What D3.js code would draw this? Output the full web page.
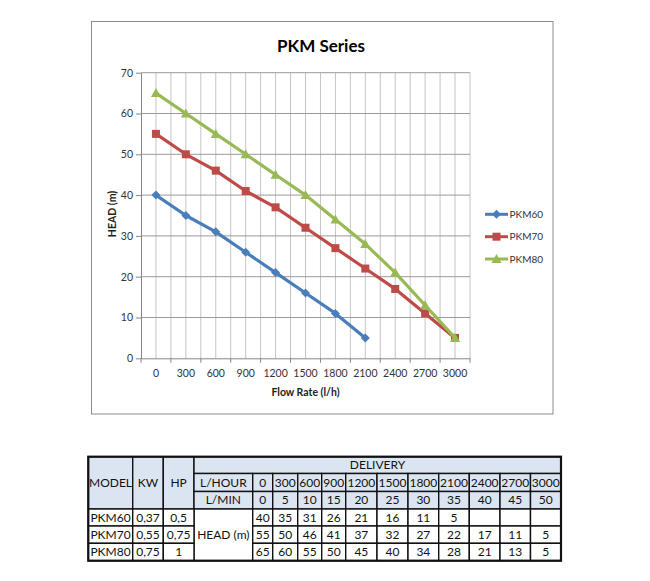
<!DOCTYPE html>
<html>
<head>
<meta charset="utf-8">
<script src="https://cdn.jsdelivr.net/npm/d3@7/dist/d3.min.js"></script>
<style>
  html, body { margin: 0; padding: 0; background: #fff; }
  svg { display: block; }
</style>
</head>
<body>
<svg id="c" width="650" height="581"></svg>
<script>
// ---------- DATA ----------
const flowLabels = ["0","300","600","900","1200","1500","1800","2100","2400","2700","3000"];
const lminValues = ["0","5","10","15","20","25","30","35","40","45","50"];
const yTickValues = [0,10,20,30,40,50,60,70];
const seriesNames = ["PKM60","PKM70","PKM80"];
const pkm60 = [40,35,31,26,21,16,11,5];
const pkm70 = [55,50,46,41,37,32,27,22,17,11,5];
const pkm80 = [65,60,55,50,45,40,34,28,21,13,5];
const kwValues = ["0,37","0,55","0,75"];
const hpValues = ["0,5","0,75","1"];
const chartTitle = "PKM Series";
const xTitle = "Flow Rate (l/h)";
const yTitle = "HEAD (m)";

// ---------- LAYOUT / STYLE ----------
const FONT = "Lato, 'Open Sans', sans-serif";
const colors = ["#4A7EBB", "#BE4B48", "#98B954"];
const markers = ["diamond", "square", "triangle"];
const plot = { left: 141, right: 470, top: 72.7, bottom: 358.3 };

const svg = d3.select("#c");

// chart frame
svg.append("rect").attr("x", 91.5).attr("y", 21.5).attr("width", 461.5).attr("height", 392.5)
  .attr("fill", "#fff").attr("stroke", "#8c8c8c").attr("stroke-width", 1);

const x = d3.scaleBand().domain(flowLabels).range([plot.left, plot.right]).paddingInner(0).paddingOuter(0);
const y = d3.scaleLinear().domain([0, 70]).range([plot.bottom, plot.top]);
const cx = d => x(d) + x.bandwidth() / 2;

// vertical gridlines at category centres and boundaries
const g = svg.append("g");
flowLabels.forEach((d, i) => {
  g.append("line").attr("x1", cx(d)).attr("x2", cx(d)).attr("y1", plot.top).attr("y2", plot.bottom)
    .attr("stroke", "#c4c4c4").attr("stroke-width", 1);
  const b = x(d) + x.bandwidth();
  g.append("line").attr("x1", b).attr("x2", b).attr("y1", plot.top).attr("y2", plot.bottom)
    .attr("stroke", "#c4c4c4").attr("stroke-width", 1);
});
// horizontal gridlines
yTickValues.filter(v => v > 0).forEach(v => {
  g.append("line").attr("x1", plot.left).attr("x2", plot.right).attr("y1", y(v)).attr("y2", y(v))
    .attr("stroke", "#9a9a9a").attr("stroke-width", 1);
});

// y axis
const yAxis = svg.append("g").attr("transform", `translate(${plot.left},0)`)
  .call(d3.axisLeft(y).tickValues(yTickValues).tickSize(5).tickPadding(3).tickSizeOuter(0));
yAxis.select(".domain").attr("stroke", "#868686");
yAxis.selectAll(".tick line").attr("stroke", "#868686");
yAxis.selectAll("text").attr("font-family", FONT).attr("font-size", 10.5).attr("fill", "#333");

// x axis (labels)
const xAxis = svg.append("g").attr("transform", `translate(0,${plot.bottom})`)
  .call(d3.axisBottom(x).tickSize(0).tickPadding(11.5).tickSizeOuter(0));
xAxis.select(".domain").attr("stroke", "#868686");
xAxis.selectAll("text").attr("font-family", FONT).attr("font-size", 10.5).attr("fill", "#333");
// boundary ticks
const bounds = [x(flowLabels[0])].concat(flowLabels.map(d => x(d) + x.bandwidth()));
bounds.forEach(b => {
  svg.append("line").attr("x1", b).attr("x2", b).attr("y1", plot.bottom).attr("y2", plot.bottom + 4.5)
    .attr("stroke", "#868686");
});

// titles
svg.append("text").attr("x", 321).attr("y", 52).attr("text-anchor", "middle")
  .attr("font-family", FONT).attr("font-weight", "bold").attr("font-size", 17).attr("fill", "#000").text(chartTitle);
svg.append("text").attr("x", (plot.left + plot.right) / 2).attr("y", 396).attr("text-anchor", "middle")
  .attr("font-family", FONT).attr("font-weight", "bold").attr("font-size", 10.5).attr("fill", "#222").text(xTitle);
svg.append("text").attr("transform", `translate(116,214) rotate(-90)`).attr("text-anchor", "middle")
  .attr("font-family", FONT).attr("font-weight", "bold").attr("font-size", 10.5).attr("fill", "#222").text(yTitle);

// markers
function drawMarker(sel, type, px, py, color) {
  if (type === "diamond") {
    sel.append("path").attr("d", `M${px},${py-4.5}L${px+4.5},${py}L${px},${py+4.5}L${px-4.5},${py}Z`).attr("fill", color);
  } else if (type === "square") {
    sel.append("rect").attr("x", px - 4).attr("y", py - 4).attr("width", 8).attr("height", 8).attr("fill", color);
  } else {
    sel.append("path").attr("d", `M${px},${py-5}L${px+5},${py+4}L${px-5},${py+4}Z`).attr("fill", color);
  }
}

const allSeries = [pkm60, pkm70, pkm80];
const line = d3.line().x((d, i) => cx(flowLabels[i])).y(d => y(d));
allSeries.forEach((s, k) => {
  const gs = svg.append("g");
  gs.append("path").attr("d", line(s)).attr("fill", "none").attr("stroke", colors[k])
    .attr("stroke-width", 3.2).attr("stroke-linejoin", "round").attr("stroke-linecap", "round");
  s.forEach((v, i) => drawMarker(gs, markers[k], cx(flowLabels[i]), y(v), colors[k]));
});

// legend
const legendY = [214.3, 236.7, 259];
seriesNames.forEach((n, k) => {
  const lg = svg.append("g");
  lg.append("line").attr("x1", 485).attr("x2", 508).attr("y1", legendY[k]).attr("y2", legendY[k])
    .attr("stroke", colors[k]).attr("stroke-width", 3);
  drawMarker(lg, markers[k], 496.5, legendY[k], colors[k]);
  lg.append("text").attr("x", 509.5).attr("y", legendY[k] + 3.5).attr("font-family", FONT)
    .attr("font-size", 10).attr("fill", "#333").text(n);
});

// ---------- TABLE ----------
const colEdges = [88.3,132.7,163.3,194,252.7,272.7,297.7,321.7,345.7,377,408,438.7,469.3,500,530.5,561];
const rowEdges = [456.7,473.5,491.5,509,526,543.3,560.7];
const shade = "#DBE5F1";
const cells = [];
function cell(c0, c1, r0, r1, text, fill) {
  cells.push({ x0: colEdges[c0], x1: colEdges[c1], y0: rowEdges[r0], y1: rowEdges[r1], text, fill });
}
cell(0, 1, 0, 3, "MODEL", shade);
cell(1, 2, 0, 3, "KW", shade);
cell(2, 3, 0, 3, "HP", shade);
cell(3, 15, 0, 1, "DELIVERY", shade);
cell(3, 4, 1, 2, "L/HOUR", shade);
flowLabels.forEach((d, i) => cell(4 + i, 5 + i, 1, 2, d, shade));
cell(3, 4, 2, 3, "L/MIN", shade);
lminValues.forEach((d, i) => cell(4 + i, 5 + i, 2, 3, d, shade));
cell(3, 4, 3, 6, "HEAD (m)", "#fff");
seriesNames.forEach((n, r) => {
  cell(0, 1, 3 + r, 4 + r, n, "#fff");
  cell(1, 2, 3 + r, 4 + r, kwValues[r], "#fff");
  cell(2, 3, 3 + r, 4 + r, hpValues[r], "#fff");
  flowLabels.forEach((d, i) => {
    const v = allSeries[r][i];
    cell(4 + i, 5 + i, 3 + r, 4 + r, v === undefined ? "" : String(v), "#fff");
  });
});

const tg = svg.append("g");
tg.selectAll("rect.cell").data(cells).join("rect").attr("class", "cell")
  .attr("x", d => d.x0).attr("y", d => d.y0).attr("width", d => d.x1 - d.x0).attr("height", d => d.y1 - d.y0)
  .attr("fill", d => d.fill).attr("stroke", "#111").attr("stroke-width", 1.4);
tg.selectAll("text").data(cells).join("text")
  .attr("x", d => (d.x0 + d.x1) / 2).attr("y", d => (d.y0 + d.y1) / 2 + 4.2)
  .attr("text-anchor", "middle").attr("font-family", FONT).attr("font-size", 12).attr("fill", "#111")
  .text(d => d.text);
tg.append("rect").attr("x", colEdges[0]).attr("y", rowEdges[0])
  .attr("width", colEdges[colEdges.length - 1] - colEdges[0]).attr("height", rowEdges[rowEdges.length - 1] - rowEdges[0])
  .attr("fill", "none").attr("stroke", "#111").attr("stroke-width", 2.2);
</script>
</body>
</html>
